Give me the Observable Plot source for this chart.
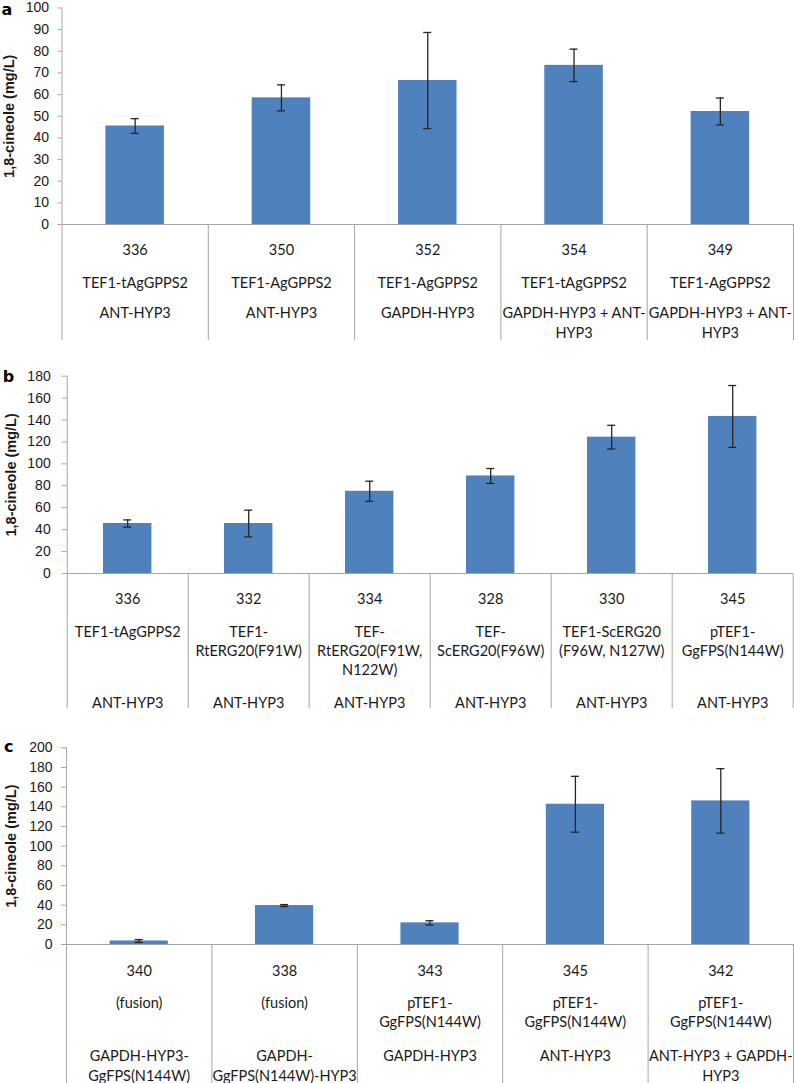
<!DOCTYPE html>
<html><head><meta charset="utf-8">
<script src="https://cdn.jsdelivr.net/npm/d3@7"></script>
<script src="https://cdn.jsdelivr.net/npm/@observablehq/plot@0.6"></script>
<style>
body{margin:0;background:#fff;width:794px;overflow:hidden}
#chart svg{display:block}
</style>
</head><body><div id="chart"></div>
<script>
// ---------- Panel a ----------
const aStrains = ["336", "350", "352", "354", "349"];
const aRow2 = ["TEF1-tAgGPPS2", "TEF1-AgGPPS2", "TEF1-AgGPPS2", "TEF1-tAgGPPS2", "TEF1-AgGPPS2"];
const aRow3 = ["ANT-HYP3", "ANT-HYP3", "GAPDH-HYP3", "GAPDH-HYP3 + ANT-\nHYP3", "GAPDH-HYP3 + ANT-\nHYP3"];
const aMeans = [45.5, 58.5, 66.5, 73.5, 52.2];
const aErrors = [3.4, 6.0, 22.2, 7.5, 6.2];
const aTicks = [0, 10, 20, 30, 40, 50, 60, 70, 80, 90, 100];

// ---------- Panel b ----------
const bStrains = ["336", "332", "334", "328", "330", "345"];
const bRow2 = ["TEF1-tAgGPPS2", "TEF1-\nRtERG20(F91W)", "TEF-\nRtERG20(F91W,\nN122W)", "TEF-\nScERG20(F96W)", "TEF1-ScERG20\n(F96W, N127W)", "pTEF1-\nGgFPS(N144W)"];
const bRow3 = ["ANT-HYP3", "ANT-HYP3", "ANT-HYP3", "ANT-HYP3", "ANT-HYP3", "ANT-HYP3"];
const bMeans = [45.6, 45.6, 75.0, 89.0, 124.4, 143.3];
const bErrors = [3.3, 12.2, 9.2, 6.8, 10.8, 28.2];
const bTicks = [0, 20, 40, 60, 80, 100, 120, 140, 160, 180];

// ---------- Panel c ----------
const cStrains = ["340", "338", "343", "345", "342"];
const cRow2 = ["(fusion)", "(fusion)", "pTEF1-\nGgFPS(N144W)", "pTEF1-\nGgFPS(N144W)", "pTEF1-\nGgFPS(N144W)"];
const cRow3 = ["GAPDH-HYP3-\nGgFPS(N144W)", "GAPDH-\nGgFPS(N144W)-HYP3", "GAPDH-HYP3", "ANT-HYP3", "ANT-HYP3 + GAPDH-\nHYP3"];
const cMeans = [3.6, 39.6, 22.0, 142.6, 146.0];
const cErrors = [1.4, 1.0, 2.2, 28.4, 32.8];
const cTicks = [0, 20, 40, 60, 80, 100, 120, 140, 160, 180, 200];

const yTitle = "1,8-cineole (mg/L)";
const BAR = "#4F81BD";
const AXIS = "#a6a6a6";
const INK = "#1a1a1a";
const LABEL_FONT = "Lato, 'Open Sans', sans-serif";
const TICK_FONT = "'Liberation Sans', Arial, sans-serif";

function panel(letter, strains, row2, row3, means, errors, yTicks, L) {
  const n = strains.length;
  const rows = means.map((m, i) => ({i, m, e: errors[i], s: strains[i], r2: row2[i], r3: row3[i]}));
  const yMax = yTicks[yTicks.length - 1];
  const textOpts = {fontFamily: LABEL_FONT, fontSize: 14.5, fill: INK, lineAnchor: "top", lineHeight: 1.32, frameAnchor: "bottom", textAnchor: "middle"};
  return Plot.plot({
    width: 794,
    height: L.height,
    marginTop: L.top,
    marginBottom: L.bottom,
    marginLeft: L.left,
    marginRight: L.right,
    x: {domain: [0, n], axis: null},
    y: {domain: [0, yMax], axis: null},
    style: {background: "#fff", color: INK, overflow: "visible"},
    marks: [
      Plot.rectY(rows, {x1: d => d.i + 0.3, x2: d => d.i + 0.7, y1: 0, y2: "m", fill: BAR}),
      Plot.ruleX(d3.range(n + 1), {x: d => d, y1: 0, y2: 0, insetBottom: -L.bottom, stroke: AXIS}),
      Plot.ruleX([0], {stroke: AXIS}),
      Plot.ruleY([0], {stroke: AXIS}),
      // y ticks and tick labels
      Plot.ruleY(yTicks, {y: d => d, x1: 0, x2: 0, insetLeft: -L.tickSize, stroke: AXIS}),
      Plot.text(yTicks, {y: d => d, frameAnchor: "left", textAnchor: "end", lineAnchor: "middle",
                         dx: -(L.tickSize + L.pad), text: d => String(d),
                         fontFamily: TICK_FONT, fontSize: 14, fill: INK}),
      // error bars
      Plot.ruleX(rows, {x: d => d.i + 0.5, y1: d => d.m - d.e, y2: d => d.m + d.e, stroke: "#262626", strokeWidth: 1.3}),
      Plot.ruleY(rows, {x1: d => d.i + 0.5, x2: d => d.i + 0.5, y: d => d.m + d.e, insetLeft: -4, insetRight: -4, stroke: "#262626", strokeWidth: 1.3}),
      Plot.ruleY(rows, {x1: d => d.i + 0.5, x2: d => d.i + 0.5, y: d => d.m - d.e, insetLeft: -4, insetRight: -4, stroke: "#262626", strokeWidth: 1.3}),
      // category labels (three levels)
      Plot.text(rows, {...textOpts, x: d => d.i + 0.5, text: "s", dy: L.row1}),
      Plot.text(rows, {...textOpts, x: d => d.i + 0.5, text: "r2", dy: L.row2}),
      Plot.text(rows, {...textOpts, x: d => d.i + 0.5, text: "r3", dy: L.row3}),
      // axis title and panel letter
      Plot.text([yTitle], {frameAnchor: "left", textAnchor: "middle", lineAnchor: "middle", rotate: -90, dx: L.titleDx,
                           fontFamily: "'Liberation Sans', Arial, sans-serif", fontWeight: "bold", fontSize: 14.5, fill: INK}),
      Plot.text([letter], {frameAnchor: "top-left", textAnchor: "middle", lineAnchor: "middle", dx: L.letterDx, dy: L.letterDy,
                           fontFamily: "'DejaVu Sans', sans-serif", fontWeight: "bold", fontSize: 16, fill: "#000"})
    ]
  });
}

const chart = document.getElementById("chart");
chart.append(panel("a", aStrains, aRow2, aRow3, aMeans, aErrors, aTicks,
  {height: 340, top: 7.5, bottom: 116, left: 61.5, right: 1, tickSize: 4, pad: 9, row1: 17, row2: 50.3, row3: 80.3, titleDx: -52.5, letterDx: -55, letterDy: 1.5}));
chart.append(panel("b", bStrains, bRow2, bRow3, bMeans, bErrors, bTicks,
  {height: 368, top: 35.7, bottom: 135, left: 66.7, right: 1.3, tickSize: 5, pad: 11.5, row1: 16.6, row2: 50, row3: 121.3, titleDx: -56, letterDx: -58.7, letterDy: 1}));
chart.append(panel("c", cStrains, cRow2, cRow3, cMeans, cErrors, cTicks,
  {height: 375, top: 39.3, bottom: 139, left: 66, right: 1, tickSize: 5, pad: 9, row1: 17.6, row2: 50, row3: 103.3, titleDx: -55.5, letterDx: -57.7, letterDy: -0.6}));
</script>
</body></html>
